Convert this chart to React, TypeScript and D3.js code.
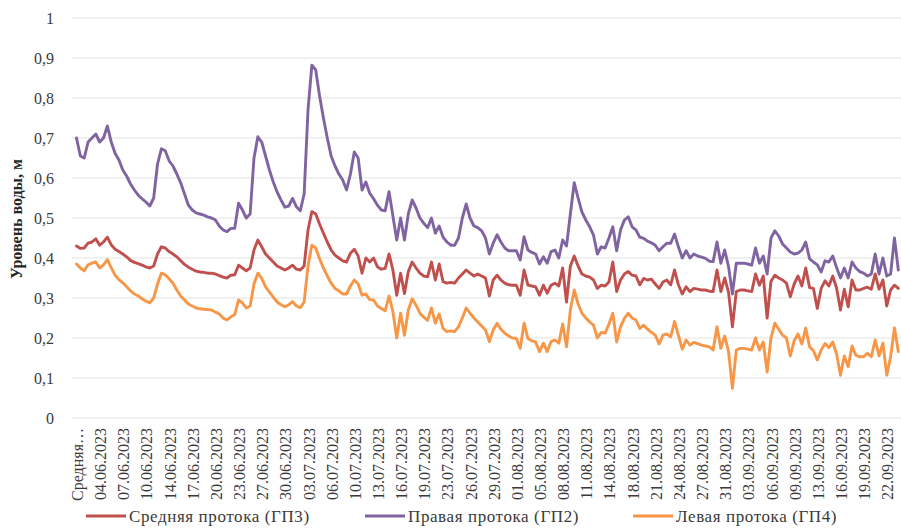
import React from "react";
import * as d3 from "d3";

const xLabels = [
  "Средняя…", "04.06.2023", "07.06.2023", "10.06.2023", "14.06.2023", "17.06.2023",
  "20.06.2023", "23.06.2023", "27.06.2023", "30.06.2023", "03.07.2023", "06.07.2023",
  "10.07.2023", "13.07.2023", "16.07.2023", "19.07.2023", "23.07.2023", "26.07.2023",
  "29.07.2023", "01.08.2023", "05.08.2023", "08.08.2023", "11.08.2023", "14.08.2023",
  "18.08.2023", "21.08.2023", "24.08.2023", "27.08.2023", "31.08.2023", "03.09.2023",
  "06.09.2023", "09.09.2023", "13.09.2023", "16.09.2023", "19.09.2023", "22.09.2023",
];

const seriesNames = ["Средняя протока (ГП3)", "Правая протока (ГП2)", "Левая протока (ГП4)"];
const seriesColors = ["#C0504D", "#8064A2", "#F79646"];

const middleGP3 = [
  0.43,0.424,0.425,0.437,0.44,0.448,0.432,0.44,0.452,0.433,
  0.422,0.416,0.41,0.403,0.394,0.389,0.386,0.382,0.378,0.375,
  0.38,0.41,0.428,0.425,0.416,0.41,0.403,0.393,0.384,0.377,
  0.372,0.367,0.365,0.364,0.362,0.362,0.36,0.356,0.352,0.35,
  0.357,0.358,0.382,0.375,0.368,0.375,0.42,0.445,0.428,0.41,
  0.40,0.39,0.38,0.375,0.37,0.375,0.382,0.372,0.37,0.38,
  0.47,0.516,0.51,0.485,0.462,0.44,0.42,0.407,0.40,0.393,
  0.39,0.412,0.422,0.405,0.362,0.40,0.39,0.40,0.378,0.372,
  0.374,0.41,0.37,0.307,0.362,0.311,0.366,0.39,0.375,0.362,
  0.355,0.353,0.39,0.345,0.385,0.341,0.337,0.339,0.337,0.35,
  0.36,0.37,0.362,0.355,0.36,0.355,0.35,0.305,0.345,0.357,
  0.345,0.337,0.333,0.332,0.332,0.307,0.37,0.332,0.33,0.328,
  0.307,0.332,0.312,0.332,0.337,0.33,0.375,0.29,0.38,0.405,
  0.38,0.36,0.355,0.352,0.345,0.324,0.332,0.33,0.34,0.39,
  0.316,0.345,0.36,0.366,0.357,0.355,0.333,0.349,0.345,0.347,
  0.335,0.324,0.34,0.345,0.333,0.37,0.333,0.31,0.328,0.316,
  0.324,0.322,0.32,0.32,0.317,0.316,0.37,0.316,0.35,0.314,
  0.228,0.316,0.32,0.32,0.318,0.316,0.36,0.332,0.355,0.25,
  0.342,0.357,0.35,0.345,0.337,0.303,0.335,0.355,0.33,0.375,
  0.326,0.324,0.274,0.324,0.343,0.33,0.355,0.325,0.27,0.322,
  0.278,0.345,0.32,0.32,0.324,0.327,0.322,0.36,0.322,0.345,
  0.28,0.32,0.332,0.324,
];

const rightGP2 = [
  0.70,0.655,0.65,0.69,0.70,0.71,0.69,0.70,0.73,0.69,
  0.662,0.645,0.62,0.605,0.585,0.57,0.557,0.548,0.54,0.53,
  0.55,0.635,0.673,0.668,0.643,0.63,0.61,0.588,0.56,0.532,
  0.52,0.513,0.51,0.507,0.503,0.50,0.495,0.48,0.47,0.466,
  0.474,0.474,0.537,0.52,0.50,0.51,0.65,0.703,0.69,0.655,
  0.62,0.59,0.565,0.545,0.527,0.53,0.549,0.528,0.518,0.56,
  0.77,0.882,0.87,0.805,0.75,0.70,0.655,0.63,0.61,0.595,
  0.57,0.61,0.665,0.65,0.57,0.59,0.562,0.548,0.532,0.52,
  0.518,0.566,0.505,0.445,0.50,0.445,0.51,0.545,0.525,0.50,
  0.487,0.476,0.50,0.462,0.48,0.452,0.44,0.432,0.432,0.45,
  0.50,0.535,0.50,0.48,0.476,0.468,0.45,0.41,0.437,0.458,
  0.44,0.425,0.418,0.418,0.418,0.395,0.453,0.42,0.414,0.41,
  0.385,0.403,0.387,0.416,0.42,0.40,0.445,0.43,0.51,0.588,
  0.55,0.515,0.495,0.478,0.457,0.41,0.428,0.425,0.45,0.478,
  0.418,0.47,0.495,0.503,0.478,0.47,0.452,0.449,0.442,0.438,
  0.432,0.418,0.428,0.437,0.437,0.46,0.428,0.40,0.418,0.40,
  0.41,0.405,0.402,0.399,0.392,0.391,0.44,0.387,0.42,0.378,
  0.31,0.387,0.387,0.387,0.385,0.382,0.425,0.387,0.405,0.36,
  0.45,0.468,0.455,0.435,0.425,0.415,0.41,0.412,0.42,0.44,
  0.398,0.39,0.383,0.365,0.393,0.39,0.405,0.376,0.35,0.375,
  0.35,0.39,0.375,0.366,0.362,0.355,0.36,0.41,0.36,0.40,
  0.355,0.36,0.45,0.37,
];

const leftGP4 = [
  0.385,0.375,0.368,0.383,0.387,0.39,0.375,0.383,0.396,0.376,
  0.357,0.346,0.338,0.328,0.318,0.31,0.305,0.298,0.292,0.288,
  0.30,0.335,0.362,0.358,0.348,0.337,0.32,0.305,0.295,0.285,
  0.28,0.275,0.273,0.272,0.271,0.27,0.265,0.26,0.25,0.245,
  0.253,0.258,0.295,0.288,0.275,0.28,0.335,0.362,0.349,0.328,
  0.315,0.302,0.29,0.283,0.278,0.283,0.291,0.28,0.276,0.29,
  0.38,0.432,0.425,0.398,0.375,0.355,0.337,0.324,0.318,0.31,
  0.31,0.33,0.345,0.335,0.307,0.31,0.296,0.295,0.28,0.274,
  0.268,0.305,0.266,0.20,0.262,0.207,0.27,0.298,0.282,0.262,
  0.252,0.244,0.275,0.237,0.26,0.224,0.216,0.218,0.216,0.228,
  0.25,0.275,0.262,0.25,0.24,0.23,0.22,0.191,0.22,0.237,
  0.222,0.212,0.205,0.20,0.199,0.174,0.237,0.199,0.193,0.19,
  0.166,0.187,0.166,0.191,0.195,0.187,0.235,0.178,0.27,0.32,
  0.285,0.262,0.25,0.24,0.232,0.20,0.214,0.212,0.235,0.262,
  0.19,0.228,0.249,0.262,0.25,0.245,0.224,0.232,0.222,0.214,
  0.207,0.185,0.207,0.21,0.203,0.241,0.207,0.172,0.195,0.182,
  0.189,0.186,0.182,0.18,0.178,0.17,0.228,0.174,0.205,0.166,
  0.074,0.17,0.174,0.174,0.172,0.17,0.20,0.17,0.19,0.115,
  0.20,0.237,0.222,0.207,0.20,0.155,0.193,0.21,0.185,0.225,
  0.178,0.168,0.145,0.17,0.186,0.176,0.19,0.16,0.107,0.155,
  0.128,0.18,0.157,0.153,0.153,0.162,0.153,0.195,0.155,0.187,
  0.107,0.153,0.225,0.166,
];

const yTicks = [0, 0.1, 0.2, 0.3, 0.4, 0.5, 0.6, 0.7, 0.8, 0.9, 1];
const pointsPerLabel = 6;

const fmtY = (v: number) => (v === 0 ? "0" : v === 1 ? "1" : v.toFixed(1).replace(".", ","));

export default function App() {
  const W = 901;
  const H = 528;
  const font = "'Liberation Serif', 'Times New Roman', serif";
  const series = [middleGP3, rightGP2, leftGP4];
  const N = middleGP3.length;
  const labelPitch = 23.15;
  const step = labelPitch / pointsPerLabel;
  const x0 = 76.5;
  const x = d3.scaleLinear().domain([0, N - 1]).range([x0, x0 + step * (N - 1)]);
  const y = d3.scaleLinear().domain([0, 1]).range([418, 18]);
  const line = d3
    .line<number>()
    .x((_, i) => x(i))
    .y((d) => y(d));

  const legendX = [86, 365, 633];

  return (
    <div style={{ position: "absolute", left: 0, top: 0 }}>
      <svg width={W} height={H} style={{ display: "block", background: "#fff" }}>
        <rect x={0} y={0} width={W} height={H} fill="#fff" />
        {yTicks.map((t) => (
          <g key={t}>
            <line x1={72} x2={W} y1={y(t)} y2={y(t)} stroke="#e3e3e3" strokeWidth={1.2} />
            <text
              x={54}
              y={y(t)}
              dy="0.35em"
              textAnchor="end"
              fontFamily={font}
              fontSize={16}
              fill="#3a3a3a"
            >
              {fmtY(t)}
            </text>
          </g>
        ))}
        <text
          transform={`translate(22,219) rotate(-90)`}
          textAnchor="middle"
          fontFamily={font}
          fontSize={16}
          fontWeight="bold"
          fill="#262626"
        >
          Уровень воды, м
        </text>
        {xLabels.map((lab, j) => (
          <text
            key={lab + j}
            transform={`translate(${x(j * pointsPerLabel) + 1},428) rotate(-90)`}
            textAnchor="end"
            dominantBaseline="central"
            fontFamily={font}
            fontSize={16}
            fill="#3a3a3a"
          >
            {lab}
          </text>
        ))}
        {[rightGP2, middleGP3, leftGP4].map((s, k) => {
          const idx = series.indexOf(s);
          return (
            <path
              key={k}
              d={line(s) || ""}
              fill="none"
              stroke={seriesColors[idx]}
              strokeWidth={2.9}
              strokeLinejoin="round"
              strokeLinecap="round"
            />
          );
        })}
        {seriesNames.map((name, k) => (
          <g key={name}>
            <line
              x1={legendX[k]}
              x2={legendX[k] + 40}
              y1={516}
              y2={516}
              stroke={seriesColors[k]}
              strokeWidth={2.9}
            />
            <text
              x={legendX[k] + 43}
              y={516}
              dy="0.35em"
              fontFamily={font}
              fontSize={17}
              letterSpacing={0.6}
              fill="#3a3a3a"
            >
              {name}
            </text>
          </g>
        ))}
      </svg>
    </div>
  );
}
